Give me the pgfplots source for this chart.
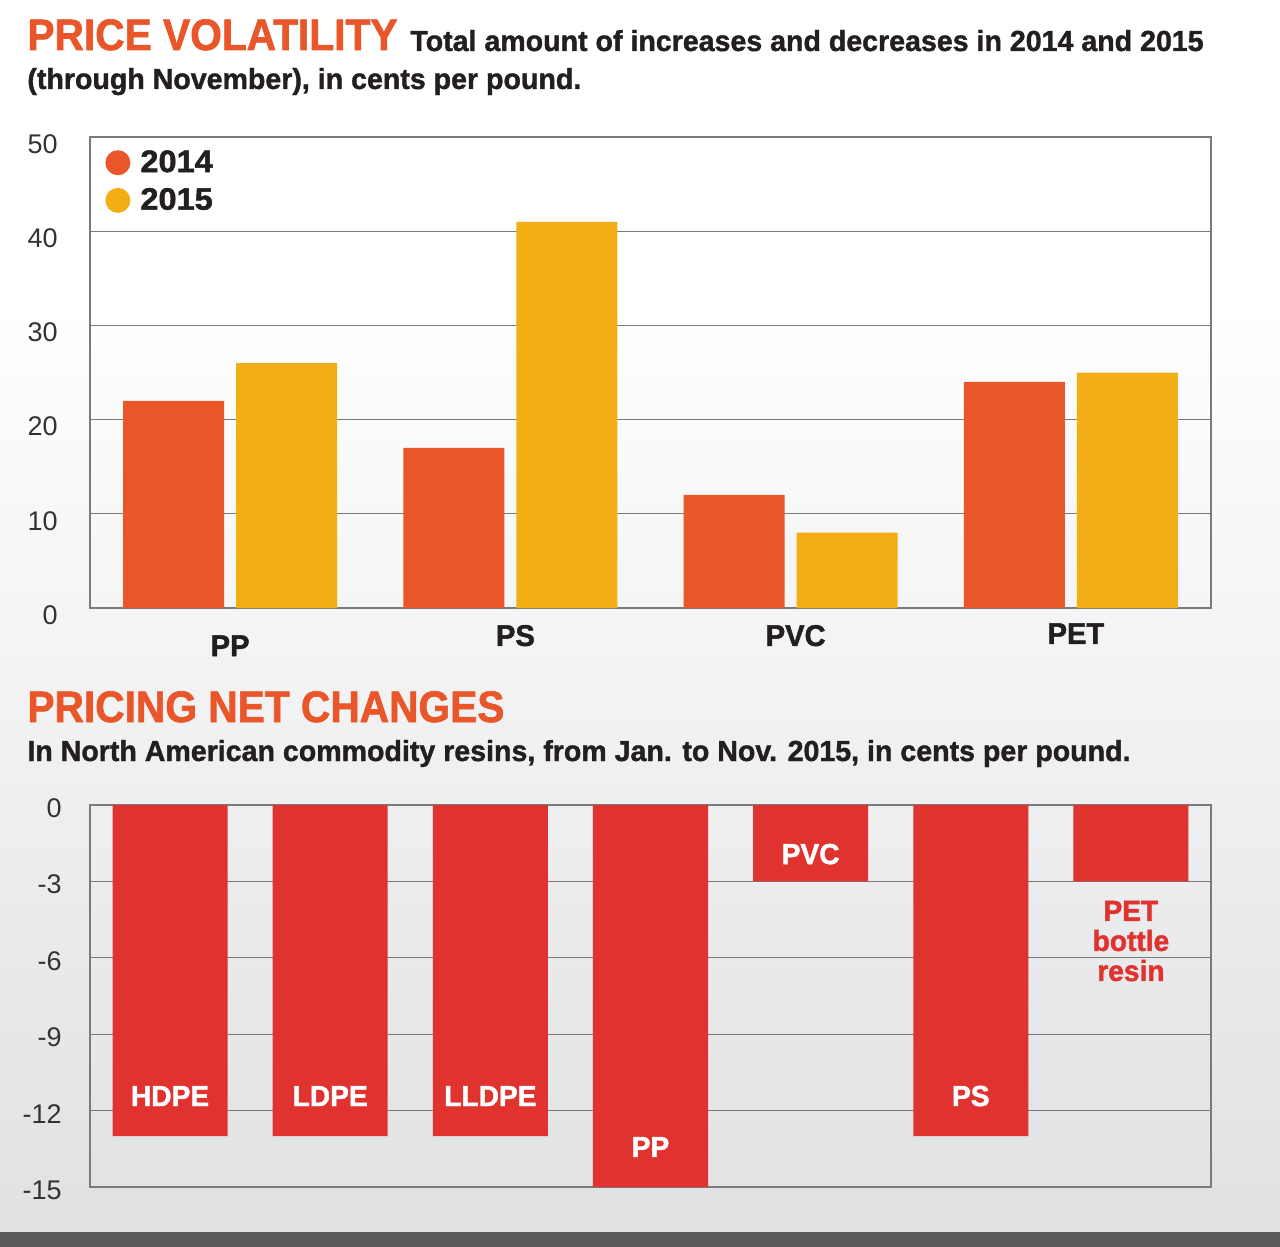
\documentclass[border=0pt]{standalone}
\usepackage{fontspec}
\setmainfont{Liberation Sans}
\newfontfamily\condfont[FakeStretch=0.925, BoldFeatures={FakeBold=1.5}]{Liberation Sans}
\newfontfamily\subfont[FakeStretch=0.985, BoldFeatures={FakeBold=1.3}]{Liberation Sans}
\newfontfamily\labfont[FakeStretch=0.97, BoldFeatures={FakeBold=1.5}]{Liberation Sans}
\newfontfamily\legfont[FakeStretch=1.05, BoldFeatures={FakeBold=1.6}]{Liberation Sans}
\usepackage{pgfplots}
\pgfplotsset{compat=1.18}
\definecolor{corange}{HTML}{E8562A}
\definecolor{cyellow}{HTML}{F2AE14}
\definecolor{cred}{HTML}{E0322E}
\definecolor{ctext}{HTML}{231F20}
\definecolor{cgrid}{HTML}{7A7A7A}
\definecolor{cbg}{HTML}{E0E1E3}
\definecolor{cband}{HTML}{58595B}
\definecolor{ctick}{HTML}{333333}
\begin{document}
\begin{tikzpicture}
% background
\fill[white] (0pt,0pt) rectangle (640pt,-150pt);
\shade[top color=white, bottom color=cbg] (0pt,-149.9pt) rectangle (640pt,-616pt);
\fill[cband] (0pt,-616pt) rectangle (640pt,-623.5pt);
% titles
\node[anchor=base west, inner sep=0pt, text=corange, font=\condfont\bfseries\fontsize{22}{22}\selectfont] at (13.5pt,-25pt) {PRICE VOLATILITY};
\node[anchor=base west, inner sep=0pt, text=ctext, font=\subfont\bfseries\fontsize{14.5}{14.5}\selectfont] at (205pt,-25.5pt) {Total amount of increases and decreases in 2014 and 2015};
\node[anchor=base west, inner sep=0pt, text=ctext, font=\subfont\bfseries\fontsize{14.5}{14.5}\selectfont] at (13.5pt,-44.5pt) {(through November), in cents per pound.};
\node[anchor=base west, inner sep=0pt, text=corange, font=\condfont\bfseries\fontsize{22}{22}\selectfont] at (13.5pt,-361pt) {PRICING NET CHANGES};
\node[anchor=base west, inner sep=0pt, text=ctext, font=\subfont\bfseries\fontsize{14.5}{14.5}\selectfont] at (13.5pt,-380.5pt) {In North American commodity resins, from Jan. to Nov. 2015, in cents per pound.};

\begin{axis}[
  at={(45pt,-304pt)}, anchor=south west, scale only axis,
  width=560.5pt, height=235.5pt,
  xmin=-0.5, xmax=3.5, ymin=0, ymax=50,
  ytick={0,10,20,30,40,50}, xtick=\empty,
  minor xtick={0.5,1.5,2.5}, xminorgrids, ymajorgrids,
  major tick length=0pt, minor tick length=0pt,
  axis line style={cgrid, line width=0.75pt},
  major grid style={cgrid, line width=0.6pt},
  minor grid style={cgrid, line width=0.6pt},
  /pgf/number format/assume math mode=true,
  yticklabel style={font=\fontsize{13.5}{13.5}\selectfont, text=ctick, inner sep=0pt, xshift=-16pt, yshift=-3.5pt},
  ybar, bar width=50.5pt, clip=false,
  legend style={at={(axis description cs:0,1)}, anchor=north west, draw=none, fill=none,
    font=\legfont\bfseries\fontsize{15.5}{15.5}\selectfont, text=ctext,
    xshift=4.5pt, yshift=-3pt, row sep=3.5pt, nodes={inner sep=1.5pt}},
  legend cell align=left,
]
\addplot[fill=corange, draw=none, bar shift=-28.25pt,
  legend image code/.code={\fill[corange] (0pt,0pt) circle (6.25pt); \path (9.75pt,0pt);}]
  coordinates {(0,22) (1,17) (2,12) (3,24)};
\addlegendentry{2014}
\addplot[fill=cyellow, draw=none, bar shift=28.25pt,
  legend image code/.code={\fill[cyellow] (0pt,0pt) circle (6.25pt); \path (9.75pt,0pt);}]
  coordinates {(0,26) (1,41) (2,8) (3,25)};
\addlegendentry{2015}
\begin{scope}[every node/.style={anchor=base, inner sep=0pt, text=ctext, font=\labfont\bfseries\fontsize{15}{15}\selectfont}]
\node at (axis cs:0,-5.1) {PP};
\node at (axis cs:1.018,-4.03) {PS};
\node at (axis cs:2.018,-4.03) {PVC};
\node at (axis cs:3.018,-3.82) {PET};
\end{scope}
\end{axis}

\begin{axis}[
  at={(45pt,-593.5pt)}, anchor=south west, scale only axis,
  width=560.5pt, height=191pt,
  xmin=-0.5, xmax=6.5, ymin=-15, ymax=0,
  ytick={-15,-12,-9,-6,-3,0}, xtick=\empty, ymajorgrids,
  major tick length=0pt,
  axis line style={cgrid, line width=0.75pt},
  major grid style={cgrid, line width=0.6pt},
  /pgf/number format/assume math mode=true,
  yticklabel style={font=\fontsize{13.5}{13.5}\selectfont, text=ctick, inner sep=0pt, xshift=-14pt, yshift=-1.5pt},
  ybar, bar width=57.5pt, clip=false,
]
\addplot[fill=cred, draw=none, bar shift=0pt]
  coordinates {(0,-13) (1,-13) (2,-13) (3,-15) (4,-3) (5,-13) (6,-3)};
\begin{scope}[every node/.style={anchor=base, inner sep=0pt, text=white, font=\labfont\bfseries\fontsize{14.5}{14.5}\selectfont}]
\node at (axis cs:0,-11.82) {HDPE};
\node at (axis cs:1,-11.82) {LDPE};
\node at (axis cs:2,-11.82) {LLDPE};
\node at (axis cs:3,-13.82) {PP};
\node at (axis cs:4,-2.32) {PVC};
\node at (axis cs:5,-11.82) {PS};
\node[text=cred] at (axis cs:6,-4.55) {PET};
\node[text=cred] at (axis cs:6,-5.73) {bottle};
\node[text=cred] at (axis cs:6,-6.91) {resin};
\end{scope}
\end{axis}
\end{tikzpicture}
\end{document}
